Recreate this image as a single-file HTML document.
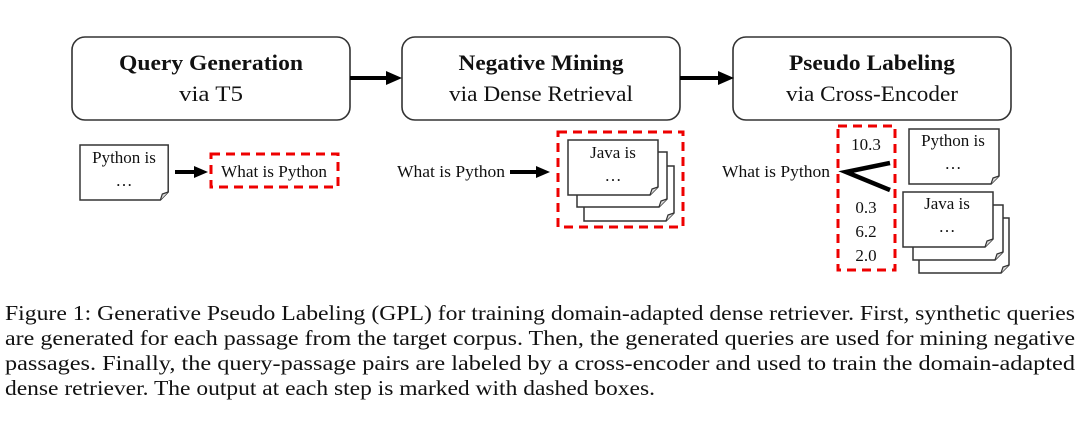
<!DOCTYPE html>
<html><head><meta charset="utf-8"><style>
html,body{margin:0;padding:0;background:#fff;}
svg{display:block;font-family:"Liberation Serif",serif;}
</style></head><body>
<svg width="1080" height="437" viewBox="0 0 1080 437" xmlns="http://www.w3.org/2000/svg">
<defs>
<g id="doc">
<path d="M0,0 H90 V47 L82,55 H0 Z" fill="#fff" stroke="#333" stroke-width="1.5"/>
<path d="M82,55 L84,49 L90,47" fill="#ddd" stroke="#333" stroke-width="1.2"/>
</g>
</defs>
<g fill="#fff" stroke="#333" stroke-width="1.6">
<rect x="72" y="37" width="278" height="83" rx="13"/>
<rect x="402" y="37" width="278" height="83" rx="13"/>
<rect x="733" y="37" width="278" height="83" rx="13"/>
</g>
<g font-size="22" text-anchor="middle" fill="#111" lengthAdjust="spacingAndGlyphs">
<text x="211" y="70" font-weight="bold" textLength="184" lengthAdjust="spacingAndGlyphs">Query Generation</text>
<text x="211" y="101" textLength="64" lengthAdjust="spacingAndGlyphs">via T5</text>
<text x="541" y="70" font-weight="bold" textLength="165" lengthAdjust="spacingAndGlyphs">Negative Mining</text>
<text x="541" y="101" textLength="184" lengthAdjust="spacingAndGlyphs">via Dense Retrieval</text>
<text x="872" y="70" font-weight="bold" textLength="166" lengthAdjust="spacingAndGlyphs">Pseudo Labeling</text>
<text x="872" y="101" textLength="172" lengthAdjust="spacingAndGlyphs">via Cross-Encoder</text>
</g>
<g stroke="#000" stroke-width="4">
<line x1="350" y1="78" x2="388" y2="78"/>
<line x1="680" y1="78" x2="720" y2="78"/>
<line x1="175" y1="172" x2="196" y2="172"/>
<line x1="510" y1="172" x2="538" y2="172"/>
</g>
<g fill="#000">
<path d="M386,71 L402,78 L386,85Z"/>
<path d="M718,71 L734,78 L718,85Z"/>
<path d="M194,166 L208,172 L194,178Z"/>
<path d="M536,166 L550,172 L536,178Z"/>
</g>
<g transform="translate(80,145) scale(0.98,1)"><use href="#doc"/></g>
<g font-size="17" fill="#111" text-anchor="middle">
<text x="124" y="163">Python is</text>
<text x="124" y="186">…</text>
</g>
<rect x="211" y="154" width="127" height="33" fill="none" stroke="#e00" stroke-width="3" stroke-dasharray="9,6"/>
<text x="274" y="177" font-size="17" text-anchor="middle" fill="#111" textLength="106" lengthAdjust="spacingAndGlyphs">What is Python</text>
<text x="451" y="177" font-size="17" text-anchor="middle" fill="#111" textLength="108" lengthAdjust="spacingAndGlyphs">What is Python</text>
<use href="#doc" x="584" y="166"/>
<use href="#doc" x="577" y="152"/>
<use href="#doc" x="568" y="140"/>
<g font-size="17" fill="#111" text-anchor="middle">
<text x="613" y="158">Java is</text>
<text x="613" y="181">…</text>
</g>
<rect x="558" y="132" width="125" height="95" fill="none" stroke="#e00" stroke-width="3" stroke-dasharray="9,6"/>
<text x="776" y="177" font-size="17" text-anchor="middle" fill="#111" textLength="108" lengthAdjust="spacingAndGlyphs">What is Python</text>
<rect x="838" y="126" width="57" height="144" fill="none" stroke="#e00" stroke-width="3" stroke-dasharray="9,6"/>
<path d="M890,163 L846,172 L890,190" fill="none" stroke="#000" stroke-width="4.5"/>
<g font-size="17" fill="#111" text-anchor="middle">
<text x="866" y="150">10.3</text>
<text x="866" y="213">0.3</text>
<text x="866" y="237">6.2</text>
<text x="866" y="261">2.0</text>
</g>
<use href="#doc" x="909" y="129"/>
<use href="#doc" x="919" y="218"/>
<use href="#doc" x="913" y="205"/>
<use href="#doc" x="903" y="192"/>
<g font-size="17" fill="#111" text-anchor="middle">
<text x="953" y="146">Python is</text>
<text x="953" y="169">…</text>
<text x="947" y="209">Java is</text>
<text x="947" y="232">…</text>
</g>
<g font-size="21" fill="#111">
<text x="5" y="320" textLength="1070" lengthAdjust="spacingAndGlyphs">Figure 1: Generative Pseudo Labeling (GPL) for training domain-adapted dense retriever. First, synthetic queries</text>
<text x="5" y="345" textLength="1070" lengthAdjust="spacingAndGlyphs">are generated for each passage from the target corpus. Then, the generated queries are used for mining negative</text>
<text x="5" y="370" textLength="1070" lengthAdjust="spacingAndGlyphs">passages. Finally, the query-passage pairs are labeled by a cross-encoder and used to train the domain-adapted</text>
<text x="5" y="395" textLength="650" lengthAdjust="spacingAndGlyphs">dense retriever. The output at each step is marked with dashed boxes.</text>
</g>
</svg>
</body></html>
